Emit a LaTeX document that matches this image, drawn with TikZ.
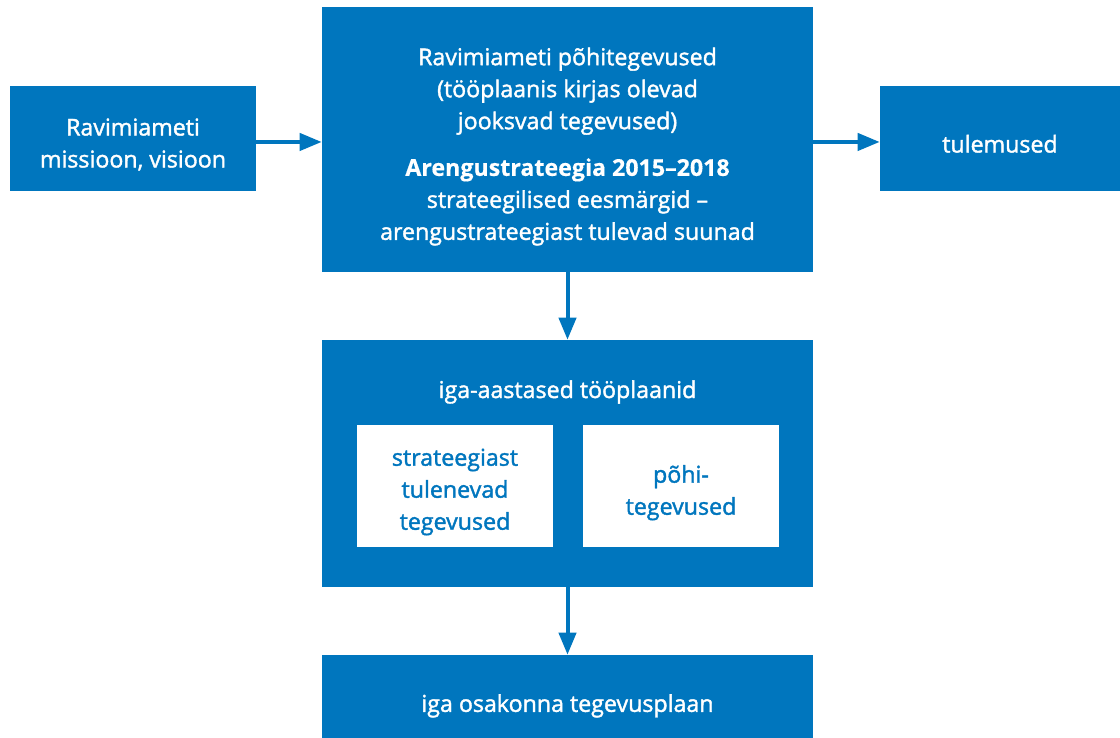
\documentclass[tikz,border=0pt]{standalone}
\usepackage{fontspec}
\setmainfont{Open Sans}[UprightFeatures={FakeBold=1.6}, BoldFeatures={FakeBold=0.4}]
\usetikzlibrary{positioning,arrows.meta}
\definecolor{raviblue}{HTML}{0076BE}

\begin{document}
\begin{tikzpicture}[
  x=0.75pt, y=-0.75pt,
  node distance=5mm and 8mm,
  blok/.style={fill=raviblue, inner sep=0pt},
  valge/.style={fill=white, inner sep=0pt,
                minimum width=147pt, minimum height=91.5pt},
  txt/.style={text=white, align=center, inner sep=0pt,
              font=\fontsize{17.4}{24}\selectfont},
  vtxt/.style={text=raviblue, align=center, inner sep=0pt,
               font=\fontsize{17.4}{24}\selectfont},
  arr/.style={-{Triangle[length=16.5pt, width=12.75pt]}, line width=3pt, raviblue}]
\useasboundingbox (0,0) rectangle (1120,738);
% kastid
\node[blok, minimum width=184.5pt, minimum height=78.75pt] (mis) at (133,138.5) {};
\node[blok, minimum width=368.25pt, minimum height=198.75pt] (main) at (567.5,139.5) {};
\node[blok, minimum width=180pt, minimum height=78.75pt] (tul) at (1000,138.5) {};
\node[blok, minimum width=368.25pt, minimum height=185.25pt] (plaan) at (567.5,463.5) {};
\node[valge] (str) at (455,486) {};
\node[valge] (poh) at (681,486) {};
\node[blok, minimum width=368.25pt, minimum height=62.25pt] (osak) at (567.5,696.5) {};
% tekstid
\node[txt] (mistxt) at ([yshift=-4.5pt]mis.center) {Ravimiameti\\missioon, visioon};
\node[txt] (maintxt) at (567.5,146.5)
  {Ravimiameti põhitegevused\\(tööplaanis kirjas olevad\\jooksvad tegevused)\\[11pt]
   \textbf{Arengustrateegia 2015–2018}\\strateegilised eesmärgid –\\arengustrateegiast tulevad suunad};
\node[txt] (tultxt) at ([yshift=-4pt]tul.center) {tulemused};
\node[txt] (plaantxt) at (567.5,392) {iga-aastased tööplaanid};
\node[vtxt] (strtxt) at ([yshift=-4.5pt]str.center) {strateegiast\\tulenevad\\tegevused};
\node[vtxt] (pohtxt) at ([yshift=-5pt]poh.center) {põhi-\\tegevused};
\node[txt] (osaktxt) at ([yshift=-7pt]osak.center) {iga osakonna tegevusplaan};
% nooled
\draw[arr] ([yshift=-2.6pt]mis.east) -- ([yshift=-2.6pt]mis.east -| main.west);
\draw[arr] ([yshift=-2.6pt]tul.west -| main.east) -- ([yshift=-2.6pt]tul.west);
\draw[arr] (main.south) -- (plaan.north);
\draw[arr] (plaan.south) -- (osak.north);
\end{tikzpicture}
\end{document}
